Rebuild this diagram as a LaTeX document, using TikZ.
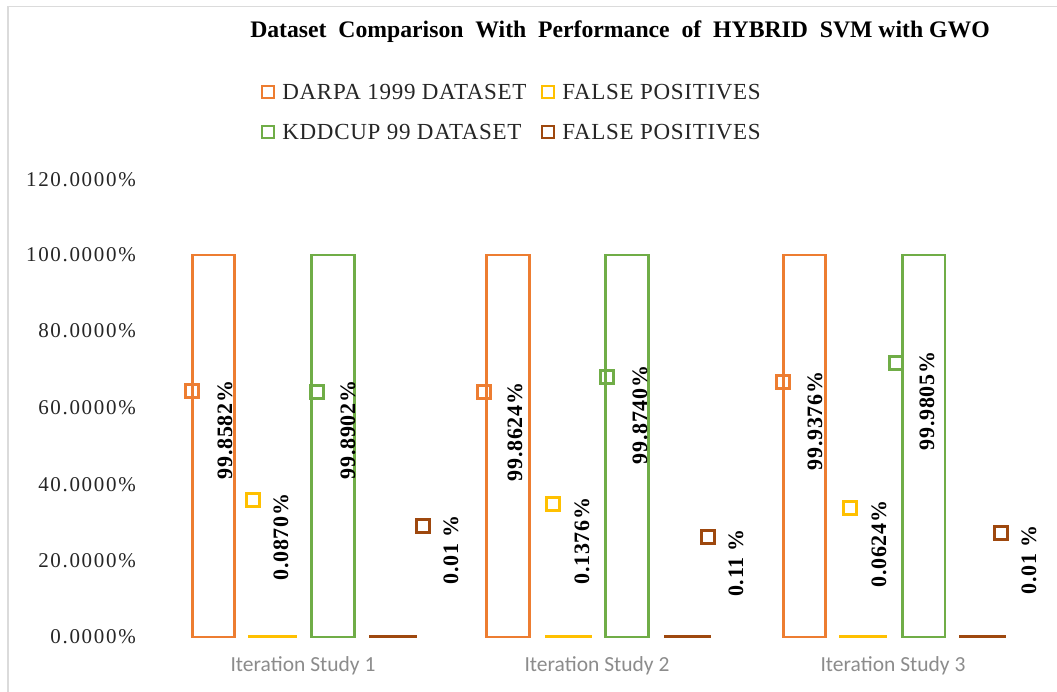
\documentclass[tikz,border=0pt]{standalone}
\usepackage{fontspec}
\setmainfont{Liberation Serif}
\newfontfamily\catfont{Carlito}
\newfontfamily\spacedfont[LetterSpace=8]{Liberation Serif}
\newfontfamily\legfont[LetterSpace=3]{Liberation Serif}
\newfontfamily\lblfont[LetterSpace=3]{Liberation Serif}
\usepackage{tikz}
\usepackage{xcolor}
\usetikzlibrary{positioning}

\definecolor{darpa}{HTML}{ED7D31}
\definecolor{fpone}{HTML}{FFC000}
\definecolor{kdd}{HTML}{70AD47}
\definecolor{fptwo}{HTML}{9E480E}

\begin{document}
\begin{tikzpicture}[x=1pt,y=-1pt,node distance=7pt,line join=miter]
  \tikzstyle{bar}=[line width=2.8pt,fill=white]
  \tikzstyle{marker}=[draw,line width=2.4pt,minimum size=13pt,inner sep=0pt]
  \tikzstyle{legmark}=[draw,line width=2.4pt,minimum size=12pt,inner sep=0pt]
  \tikzstyle{legtext}=[font=\legfont\fontsize{23}{23}\selectfont,text=black!85,inner sep=0pt]
  \tikzstyle{vlabel}=[font=\lblfont\bfseries\fontsize{22}{22}\selectfont,rotate=90,inner sep=0pt]
  \tikzstyle{ylabel}=[font=\spacedfont\fontsize{21}{21}\selectfont,text=black!85,anchor=east,inner sep=0pt]
  \tikzstyle{catlabel}=[font=\catfont\fontsize{21.5}{21.5}\selectfont,text=black!45,inner sep=0pt]

  \useasboundingbox (0,0) rectangle (1057,692);
  \fill[white] (0,0) rectangle (1057,692);
  \draw[black!14,line width=1.5pt] (8,692) -- (8,6.5) -- (1057,6.5);

  % title
  \node[font=\bfseries\fontsize{23.7}{23.7}\selectfont] (title) at (620,32)
    {Dataset\ \ Comparison\ \ With\ \ Performance\ \ of\ \ HYBRID\ \ SVM with GWO};

  % legend
  \node[legmark,draw=darpa] (lm1) at (268,92) {};
  \node[legtext,right=of lm1] (lt1) {DARPA 1999 DATASET};
  \node[legmark,draw=fpone] (lm2) at (548,92) {};
  \node[legtext,right=of lm2] (lt2) {FALSE POSITIVES};
  \node[legmark,draw=kdd] (lm3) at (268,132) {};
  \node[legtext,right=of lm3] (lt3) {KDDCUP 99 DATASET};
  \node[legmark,draw=fptwo] (lm4) at (548,132) {};
  \node[legtext,right=of lm4] (lt4) {FALSE POSITIVES};

  % value axis
  \node[ylabel] (y0)   at (136,637) {0.0000\%};
  \node[ylabel] (y20)  at (136,561) {20.0000\%};
  \node[ylabel] (y40)  at (136,485) {40.0000\%};
  \node[ylabel] (y60)  at (136,408) {60.0000\%};
  \node[ylabel] (y80)  at (136,331) {80.0000\%};
  \node[ylabel] (y100) at (136,255) {100.0000\%};
  \node[ylabel] (y120) at (136,180) {120.0000\%};

  % bars
  \draw[bar,draw=darpa] (192.5,637) rectangle (234.5,255);
  \draw[bar,draw=fpone] (249.5,637) rectangle (296,636.6);
  \draw[bar,draw=kdd]   (311.5,637) rectangle (354.5,255);
  \draw[bar,draw=fptwo] (370,637) rectangle (416,636.6);

  \draw[bar,draw=darpa] (486.5,637) rectangle (529.5,255);
  \draw[bar,draw=fpone] (546,637) rectangle (591,636.6);
  \draw[bar,draw=kdd]   (605.5,637) rectangle (648.5,255);
  \draw[bar,draw=fptwo] (665,637) rectangle (710,636.6);

  \draw[bar,draw=darpa] (783.5,637) rectangle (825.5,255);
  \draw[bar,draw=fpone] (840.5,637) rectangle (886,636.6);
  \draw[bar,draw=kdd]   (902.5,637) rectangle (945,255);
  \draw[bar,draw=fptwo] (960,637) rectangle (1005,636.6);

  % data labels
  \node[marker,draw=darpa] (m1a) at (192,391) {};
  \node[vlabel] (v1a) at (225,430) {99.8582\%};
  \node[marker,draw=fpone] (m1b) at (253,500) {};
  \node[vlabel] (v1b) at (281,537) {0.0870\%};
  \node[marker,draw=kdd] (m1c) at (317,392) {};
  \node[vlabel] (v1c) at (348,430) {99.8902\%};
  \node[marker,draw=fptwo] (m1d) at (423,526) {};
  \node[vlabel] (v1d) at (451,550) {0.01 \%};

  \node[marker,draw=darpa] (m2a) at (484,392) {};
  \node[vlabel] (v2a) at (515,432) {99.8624\%};
  \node[marker,draw=fpone] (m2b) at (553,504) {};
  \node[vlabel] (v2b) at (582,541) {0.1376\%};
  \node[marker,draw=kdd] (m2c) at (607,377) {};
  \node[vlabel] (v2c) at (640,415) {99.8740\%};
  \node[marker,draw=fptwo] (m2d) at (708,537) {};
  \node[vlabel] (v2d) at (736,563) {0.11 \%};

  \node[marker,draw=darpa] (m3a) at (783,382) {};
  \node[vlabel] (v3a) at (815,421) {99.9376\%};
  \node[marker,draw=fpone] (m3b) at (850,508) {};
  \node[vlabel] (v3b) at (879,544) {0.0624\%};
  \node[marker,draw=kdd] (m3c) at (896,363) {};
  \node[vlabel] (v3c) at (927,401) {99.9805\%};
  \node[marker,draw=fptwo] (m3d) at (1001,533) {};
  \node[vlabel] (v3d) at (1029,560) {0.01 \%};

  % category axis
  \node[catlabel] (c1) at (303,666) {Iteration Study 1};
  \node[catlabel] (c2) at (597,666) {Iteration Study 2};
  \node[catlabel] (c3) at (893,666) {Iteration Study 3};
\end{tikzpicture}
\end{document}
